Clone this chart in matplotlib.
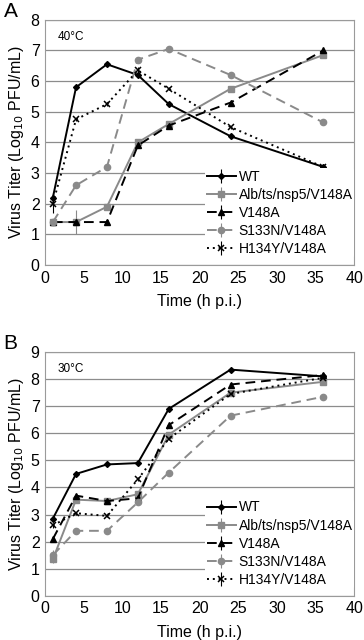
import matplotlib.pyplot as plt
import numpy as np

# time points (h p.i.)
hours = [1, 4, 8, 12, 16, 24, 36]

labels = ["WT", "Alb/ts/nsp5/V148A", "V148A", "S133N/V148A", "H134Y/V148A"]

# panel A, 40C
wt_40 = [2.2, 5.8, 6.55, 6.2, 5.25, 4.2, 3.2]
alb_40 = [1.4, 1.4, 1.9, 4.0, 4.6, 5.75, 6.85]
v148a_40 = [1.4, 1.4, 1.4, 3.9, 4.55, 5.3, 7.0]
s133n_40 = [1.4, 2.6, 3.2, 6.7, 7.05, 6.2, 4.65]
h134y_40 = [2.0, 4.75, 5.25, 6.35, 5.75, 4.5, 3.2]
err_40 = [
    [0.15, 0.05, 0.05, 0.05, 0.05, 0.05, 0.05],
    [0.1, 0.4, 0.1, 0.05, 0.05, 0.05, 0.05],
    [0.05, 0.05, 0.05, 0.05, 0.05, 0.05, 0.05],
    [0.1, 0.05, 0.05, 0.05, 0.05, 0.05, 0.05],
    [0.3, 0.05, 0.05, 0.1, 0.05, 0.05, 0.05],
]

# panel B, 30C
wt_30 = [2.85, 4.5, 4.85, 4.9, 6.9, 8.35, 8.1]
alb_30 = [1.35, 3.55, 3.5, 3.75, 5.95, 7.5, 7.9]
v148a_30 = [2.1, 3.7, 3.5, 3.6, 6.3, 7.8, 8.15]
s133n_30 = [1.5, 2.4, 2.4, 3.45, 4.55, 6.65, 7.35]
h134y_30 = [2.6, 3.05, 2.95, 4.3, 5.8, 7.45, 8.05]
err_30 = [
    [0.1, 0.05, 0.05, 0.05, 0.05, 0.1, 0.05],
    [0.15, 0.05, 0.05, 0.05, 0.05, 0.05, 0.05],
    [0.1, 0.05, 0.05, 0.05, 0.05, 0.05, 0.05],
    [0.2, 0.05, 0.05, 0.05, 0.05, 0.05, 0.05],
    [0.1, 0.05, 0.05, 0.05, 0.05, 0.05, 0.05],
]

grey = '#8a8a8a'
styles = [
    dict(color='black', ls='-', marker='D', ms=3),
    dict(color=grey, ls='-', marker='s', ms=4.5),
    dict(color='black', ls=(0, (5, 3)), marker='^', ms=4.5),
    dict(color=grey, ls=(0, (5, 3)), marker='o', ms=4.5),
    dict(color='black', ls=(0, (1, 2)), marker='x', ms=4.5, mew=1.1),
]

plt.rcParams['font.family'] = ['Liberation Sans', 'DejaVu Sans']

fig = plt.figure(figsize=(3.64, 6.40), dpi=100)
axA = fig.add_axes([0.124, 0.586, 0.849, 0.383])
axB = fig.add_axes([0.124, 0.069, 0.849, 0.381])


def panel(ax, series, errs, ymax, temp, letter):
    for vals, err, lab, st in zip(series, errs, labels, styles):
        ax.errorbar(hours, vals, yerr=err, label=lab, lw=1.4, capsize=0,
                    elinewidth=0.8, **st)
    ax.set_xlim(0, 40)
    ax.set_ylim(0, ymax)
    ax.set_xticks(range(0, 41, 5))
    ax.set_yticks(range(0, ymax + 1))
    ax.grid(axis='y', color='#8c8c8c', lw=0.9)
    ax.set_axisbelow(True)
    for s in ax.spines.values():
        s.set_color('#9a9a9a')
    ax.tick_params(length=0, labelsize=11.5, pad=4)
    ax.set_xlabel("Time (h p.i.)", fontsize=11.5, labelpad=6)
    ax.set_ylabel("Virus Titer (Log$_{10}$ PFU/mL)", fontsize=11.5, labelpad=3)
    ax.text(0.04, 0.93, temp, transform=ax.transAxes, fontsize=8.5, va='center')
    leg = ax.legend(loc='lower right', bbox_to_anchor=(1.0, 0.03), frameon=True,
                    fontsize=10, handlelength=2.1, handletextpad=0.2,
                    labelspacing=0.3, borderpad=0.1, borderaxespad=0.0)
    leg.get_frame().set_edgecolor('none')
    leg.get_frame().set_facecolor('white')
    leg.get_frame().set_alpha(1)
    fig.text(0.01, ax.get_position().y1 - 0.002, letter, fontsize=15, va='bottom')


panel(axA, [wt_40, alb_40, v148a_40, s133n_40, h134y_40], err_40, 8, "40\u00b0C", "A")
panel(axB, [wt_30, alb_30, v148a_30, s133n_30, h134y_30], err_30, 9, "30\u00b0C", "B")

fig.savefig("out.png", dpi=100)
